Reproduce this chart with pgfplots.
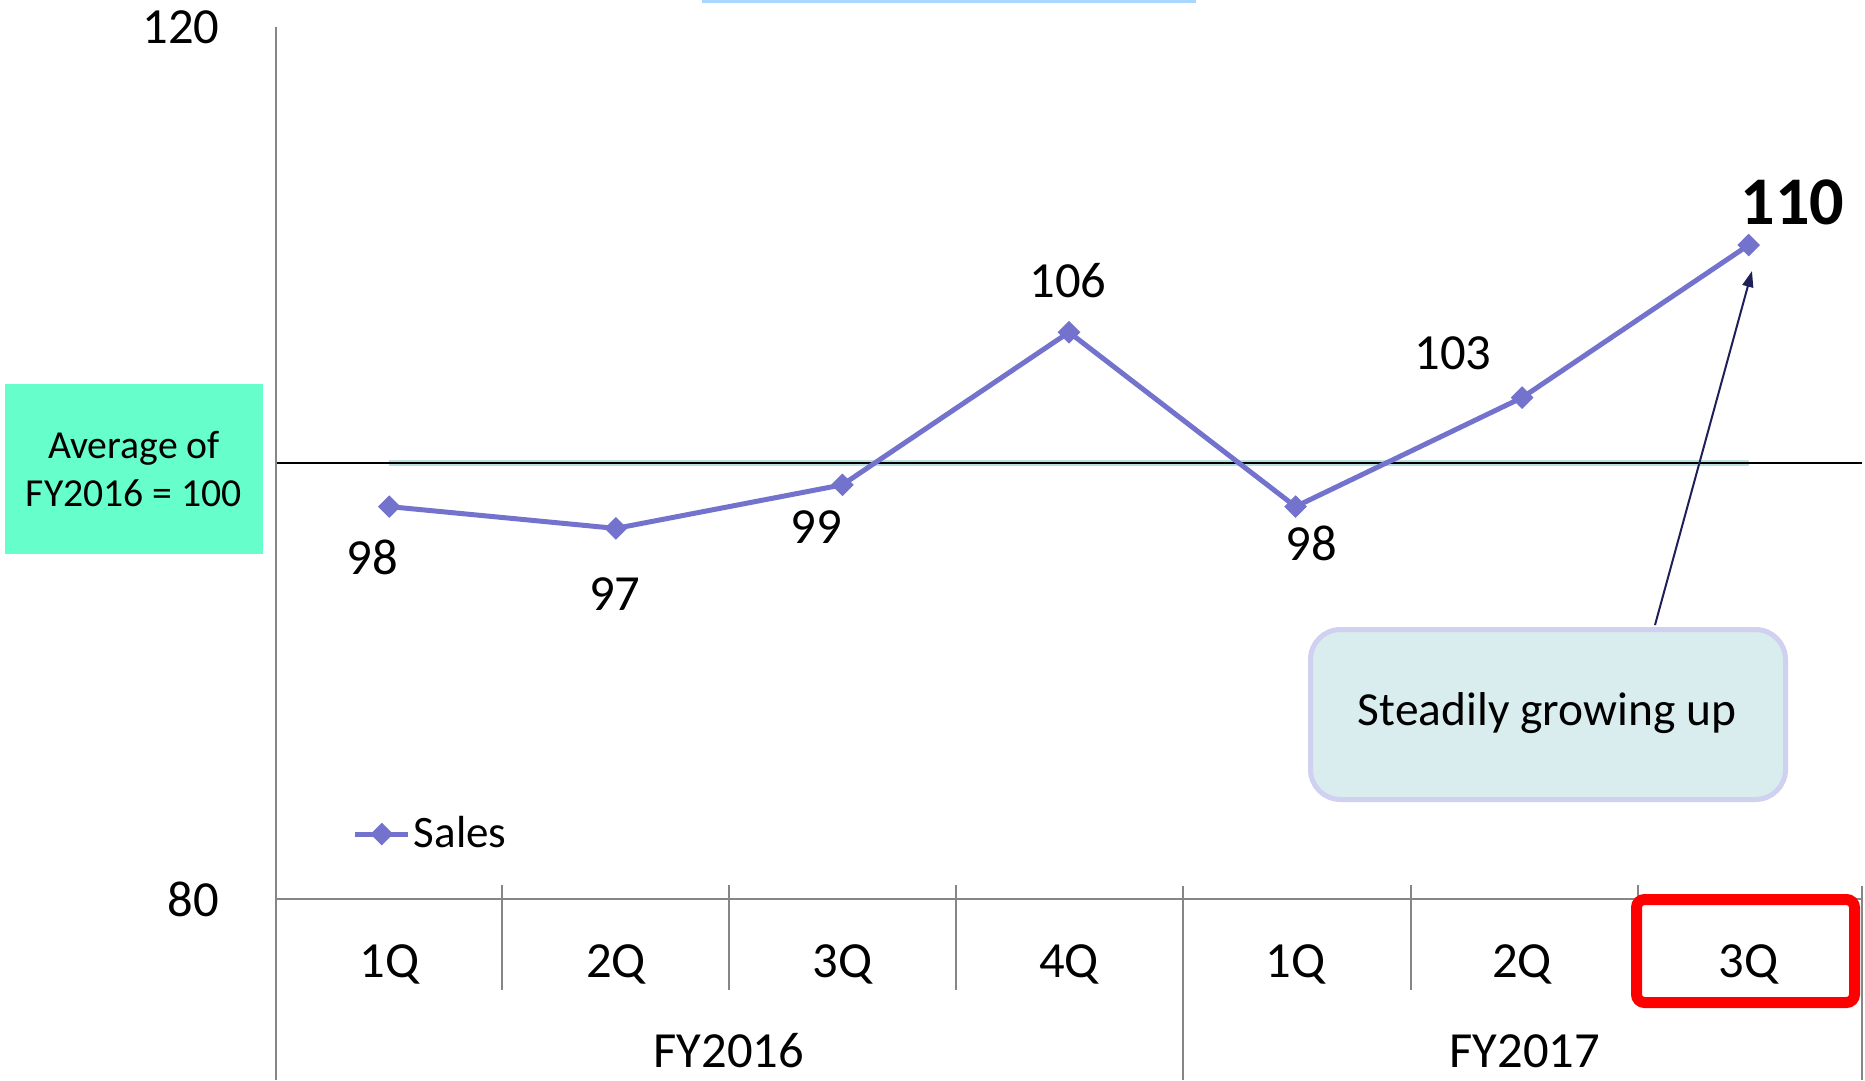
\documentclass[border=0pt]{standalone}
\usepackage{fontspec}
\setmainfont{Carlito}
\usepackage{pgfplots}
\pgfplotsset{compat=1.18}
\usetikzlibrary{arrows.meta}
\definecolor{sales}{RGB}{115,115,205}
\definecolor{axgray}{RGB}{134,134,134}
\definecolor{avgbox}{RGB}{102,255,204}
\definecolor{callfill}{RGB}{218,237,238}
\definecolor{calldraw}{RGB}{208,208,240}
\definecolor{navy}{RGB}{31,32,90}
\definecolor{halo}{RGB}{185,225,225}
\definecolor{topblue}{RGB}{170,215,255}
\begin{document}
\begin{tikzpicture}[x=0.1mm,y=0.1mm]
\useasboundingbox (0,0) rectangle (1865,1080);
\fill[topblue] (702,1077) rectangle (1196,1080);
\begin{axis}[at={(27.6mm,18.1mm)}, anchor=south west, scale only axis,
  width=158.6mm, height=87.2mm,
  xmin=-0.5, xmax=6.5, ymin=80, ymax=120,
  xtick={0,...,6}, xticklabels={1Q,2Q,3Q,4Q,1Q,2Q,3Q},
  ytick={80,120},
  axis line style={draw=none}, major tick length=0pt,
  /pgf/number format/assume math mode=true,
  tick label style={font=\fontsize{14.4}{17}\selectfont},
  yticklabel style={anchor=east, inner sep=0pt, xshift=-5.6mm},
  xticklabel style={anchor=base, inner sep=0pt, yshift=-7.8mm},
  clip=false,
  legend style={at={(0.048,0.0745)}, anchor=west, draw=none, fill=none,
    inner sep=0pt, font=\fontsize{12.8}{15}\selectfont, nodes={inner sep=0.3mm}},
  legend image code/.code={\draw[mark repeat=2,mark phase=2,#1] plot coordinates {(0mm,0mm) (2.65mm,0mm) (5.3mm,0mm)};},
]
\draw[halo, line width=0.6mm] (axis cs:0,100) -- (axis cs:6,100);
\draw[black, line width=0.15mm] (axis cs:-0.5,100) -- (axis cs:6.5,100);
\addplot[color=sales, line width=0.5mm, mark=square*, mark size=0.75mm,
  mark options={rotate=45, solid, line width=0.1mm}]
  coordinates {(0,98) (1,97) (2,99) (3,106) (4,98) (5,103) (6,110)};
\addlegendentry{Sales}
\node[font=\fontsize{14.4}{17}\selectfont, xshift=-1.7mm, yshift=-5.1mm] at (axis cs:0,98) {98};
\node[font=\fontsize{14.4}{17}\selectfont, xshift=-0.1mm, yshift=-6.6mm] at (axis cs:1,97) {97};
\node[font=\fontsize{14.4}{17}\selectfont, xshift=-2.6mm, yshift=-4.2mm] at (axis cs:2,99) {99};
\node[font=\fontsize{14.4}{17}\selectfont, xshift=-0.1mm, yshift=5.2mm] at (axis cs:3,106) {106};
\node[font=\fontsize{14.4}{17}\selectfont, xshift=1.6mm, yshift=-3.7mm] at (axis cs:4,98) {98};
\node[font=\fontsize{14.4}{17}\selectfont, xshift=-6.9mm, yshift=4.4mm] at (axis cs:5,103) {103};
\node[font=\fontsize{19.4}{23}\selectfont\bfseries, xshift=4.4mm, yshift=4.3mm] at (axis cs:6,110) {110};
\end{axis}
% category axis lines
\draw[axgray, line width=0.15mm] (276,0) -- (276,1053);
\draw[axgray, line width=0.15mm] (276,181) -- (1862,181);
\foreach \x in {502,729,956,1411,1638} \draw[axgray, line width=0.15mm] (\x,195) -- (\x,90);
\draw[axgray, line width=0.15mm] (1183,194) -- (1183,0);
\draw[axgray, line width=0.15mm] (1862,194) -- (1862,0);
\node[anchor=base, font=\fontsize{14.4}{17}\selectfont] at (729,13) {FY2016};
\node[anchor=base, font=\fontsize{14.4}{17}\selectfont] at (1525,13) {FY2017};
% highlight
\draw[red, line width=1.1mm, rounded corners=0.8mm] (1636.5,180.5) rectangle (1854.5,77.5);
% average box
\fill[avgbox] (5,526) rectangle (263,696);
\node[align=center, font=\fontsize{11.3}{13.9}\selectfont] at (134,611) {Average of\\FY2016 = 100};
% callout
\draw[calldraw, fill=callfill, line width=0.5mm, rounded corners=3mm] (1310.5,280.5) rectangle (1785.5,450.5);
\node[font=\fontsize{13.5}{16}\selectfont] at (1547,367) {Steadily growing up};
\draw[navy, line width=0.2mm, -{Triangle[length=1.6mm, width=1.1mm]}] (1655,455) -- (1752,809);
\end{tikzpicture}
\end{document}
